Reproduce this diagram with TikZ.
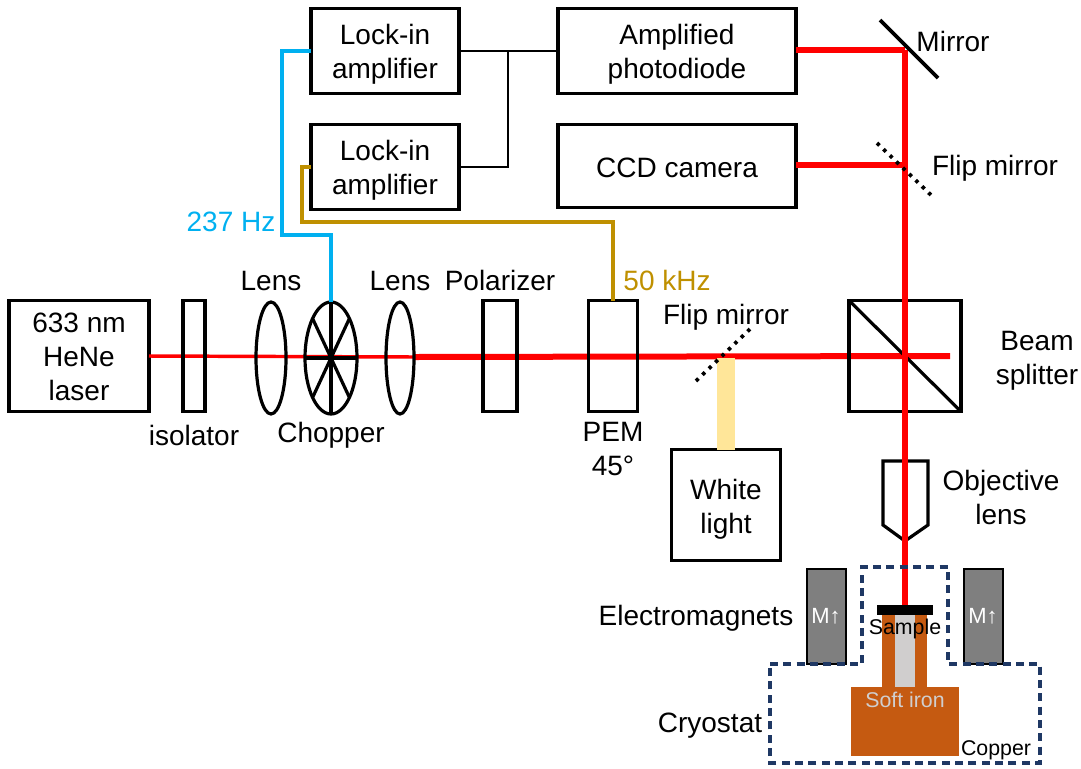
\documentclass[tikz,border=0pt]{standalone}
\usepackage{fontspec}
\setmainfont{Liberation Sans}
\usetikzlibrary{shapes.geometric}
\definecolor{beamred}{HTML}{FF0000}
\definecolor{lightyellow}{HTML}{FFE699}
\definecolor{refblue}{HTML}{00B0F0}
\definecolor{refgold}{HTML}{BF9000}
\definecolor{copperbrown}{HTML}{C55A11}
\definecolor{irongray}{HTML}{D0CECE}
\definecolor{magnetgray}{HTML}{7F7F7F}
\definecolor{cryonavy}{HTML}{1F3864}
\newcommand{\liftto}[1]{\rule{0pt}{#1}}
\begin{document}
\begin{tikzpicture}[x=0.75pt,y=-0.75pt,
  size/.style 2 args={minimum width=#1*0.75pt,minimum height=#2*0.75pt},
  instr/.style={draw,line width=2.5pt,inner sep=0pt,outer sep=0pt,align=center,
    font=\fontsize{21}{25.5}\selectfont},
  optic/.style={draw,line width=2.4pt,inner sep=0pt,outer sep=0pt},
  lens/.style={optic,ellipse},
  magnet/.style={draw,line width=1.5pt,fill=magnetgray,inner sep=0pt,outer sep=0pt,
    text=white,font=\fontsize{16.5}{18}\selectfont,size={39}{95}},
  lbl/.style={inner sep=0pt,align=center,font=\fontsize{21}{25.5}\selectfont},
  small/.style={inner sep=0pt,font=\fontsize{16}{18}\selectfont},
  beam/.style={beamred,line width=4.5pt},
  thinbeam/.style={beamred,line width=2.6pt},
  wire/.style={line width=2.2pt},
  signal/.style={line width=2.3pt},
  flip/.style={line width=2.8pt,dash pattern=on 2.6pt off 4.1pt}]
\useasboundingbox (0,0) rectangle (1081,768);
% instruments
\node[instr,size={148}{85}] (lockA) at (385,51) {\liftto{19.5pt}Lock-in\\amplifier};
\node[instr,size={148}{85}] (lockB) at (385,167) {\liftto{19.5pt}Lock-in\\amplifier};
\node[instr,size={238}{85}] (diode) at (677,51) {\liftto{19.5pt}Amplified\\photodiode};
\node[instr,size={238}{83}] (ccd) at (677,166) {\liftto{18pt}CCD camera};
\node[instr,size={140}{111}] (laser) at (79,356) {\liftto{16.5pt}633 nm\\HeNe\\laser};
\node[instr,size={109}{111}] (white) at (726,505) {\liftto{21pt}White\\light};
% coordinates of the beam
\coordinate (mirrorpt) at (905,50);
\coordinate (flippt) at (905,165);
\coordinate (thick) at (415,357);
\coordinate (beamend) at (950,356);
\coordinate (wlpt) at (726,358);
% beams behind the optics
\draw[thinbeam] (laser.east) -- (thick);
\draw[beam] (thick) -- (beamend);
\draw[lightyellow,line width=13.5pt] (wlpt) -- (white.north);
% optics on the table
\node[optic,size={22}{111}] (isolator) at (194,356) {};
\node[lens,size={30}{112}] (lensA) at (271,358) {};
\node[lens,size={52}{112}] (chopper) at (331,358) {};
\node[lens,size={28}{112}] (lensB) at (400,358) {};
\node[optic,size={34}{111}] (polarizer) at (500,356) {};
\node[optic,size={49}{111}] (pem) at (613,356) {};
\node[optic,size={112}{111}] (splitter) at (905,356) {};
\draw[line width=2.4pt] (chopper.north) -- (chopper.south);
\draw[line width=2.4pt] (chopper.west) -- (chopper.east);
\draw[line width=2.4pt] (chopper.115) -- (chopper.-65);
\draw[line width=2.4pt] (chopper.65) -- (chopper.-115);
\draw[line width=2.4pt] (splitter.north west) -- (splitter.south east);
\draw[line width=2.4pt] (883,461) -- (928,461) -- (928,525) -- (905,541) -- (883,525) -- cycle;
% sample holder
\fill[copperbrown] (851,687) rectangle (959,756);
\fill[copperbrown] (882,615) rectangle (927,687);
\fill[irongray] (895,615) rectangle (915,687);
\node[fill=black,inner sep=0pt,outer sep=0pt,size={56}{10}] (sample) at (905,610) {};
% vertical beam and its side arms
\draw[beam] (diode.east |- mirrorpt) -- (mirrorpt);
\draw[beam] (ccd.east |- flippt) -- (flippt);
\draw[beam,line width=4.8pt] (mirrorpt) -- (sample.north);
\draw[line width=2.8pt] (880,20) -- (938,78);
\draw[flip] (877,143) -- (933,197);
\draw[flip] (696,381) -- (750,329);
% wiring
\coordinate (joint) at (508,51);
\draw[wire] (lockA.east) -- (diode.west);
\draw[wire] (lockB.east) -| (joint);
\draw[refblue,signal] (lockA.west) -| (282,235) -| (chopper.north);
\draw[refgold,signal] (lockB.west) -| (302,222) -| (pem.north);
% magnets and cryostat
\node[magnet] (magA) at (826,616) {M↑};
\node[magnet] (magB) at (983,616) {M↑};
\draw[cryonavy,line width=2.4pt,dash pattern=on 6pt off 4pt]
(770,664) -- (862,664) -- (862,567) -- (948,567) -- (948,664) -- (1040,664)
-- (1040,763) -- (770,763) -- cycle;
% labels
\node[lbl,text=refblue] (hzlabel) at (231,222) {237 Hz};
\node[lbl,text=refgold] (khzlabel) at (667,280) {50 kHz};
\node[lbl] (lensAlabel) at (271,281) {Lens};
\node[lbl] (lensBlabel) at (400,281) {Lens};
\node[lbl] (pollabel) at (500,280) {Polarizer};
\node[lbl] (fliplabelA) at (726,317) {Flip mirror};
\node[lbl] (isolabel) at (194,435) {isolator};
\node[lbl] (choplabel) at (331,435) {Chopper};
\node[lbl] (pemlabel) at (613,449) {PEM\\45°};
\node[lbl] (mirrorlabel) at (953,41) {Mirror};
\node[lbl] (fliplabelB) at (995,168) {Flip mirror};
\node[lbl] (splitlabel) at (1037,361) {Beam\\splitter};
\node[lbl] (objlabel) at (1001,497) {Objective\\lens};
\node[lbl] (emlabel) at (696,618) {Electromagnets};
\node[lbl] (cryolabel) at (710,726) {Cryostat};
\node[small] (samplelabel) at (905,629) {Sample};
\node[small,text=irongray] (ironlabel) at (905,700) {Soft iron};
\node[small] (copperlabel) at (996,750) {Copper};
\end{tikzpicture}
\end{document}
